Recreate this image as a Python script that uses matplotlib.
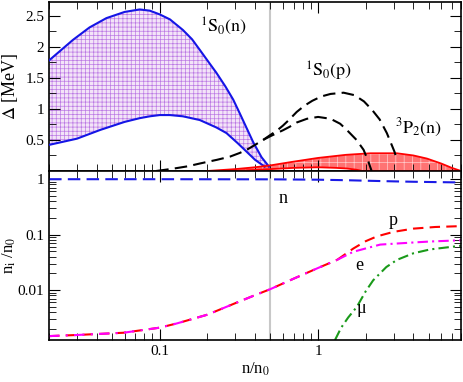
import matplotlib
matplotlib.use("Agg")
import matplotlib.pyplot as plt
from matplotlib.ticker import FixedLocator, FuncFormatter, LogLocator, NullFormatter

plt.rcParams['font.family'] = ['Liberation Serif', 'DejaVu Serif']
plt.rcParams['mathtext.fontset'] = 'stix'
plt.rcParams['hatch.linewidth'] = 0.5

# 1S0 neutron gap band (upper / lower)
s0n_up_x = [0.02, 0.0283, 0.036, 0.046, 0.06, 0.0747, 0.0866, 0.1, 0.116, 0.14, 0.16, 0.179, 0.2,
            0.228, 0.26, 0.291, 0.32, 0.354, 0.39, 0.44, 0.49]
s0n_up_y = [1.78, 2.11, 2.31, 2.46, 2.56, 2.60, 2.58, 2.52, 2.44, 2.27, 2.12, 1.95, 1.78,
            1.58, 1.36, 1.15, 0.93, 0.69, 0.46, 0.22, 0.07]
s0n_lo_x = [0.02, 0.03, 0.042, 0.06, 0.0747, 0.0866, 0.1, 0.116, 0.14, 0.179, 0.228, 0.264,
            0.31, 0.354, 0.4, 0.46]
s0n_lo_y = [0.42, 0.52, 0.66, 0.79, 0.85, 0.88, 0.90, 0.90, 0.88, 0.82, 0.70, 0.61,
            0.45, 0.31, 0.18, 0.07]

# 1S0 proton gap (two dashed curves sharing the low-density branch)
s0p_com_x = [0.095, 0.12, 0.15, 0.179, 0.23, 0.277, 0.32, 0.354, 0.4, 0.45]
s0p_com_y = [0.0, 0.035, 0.075, 0.12, 0.18, 0.23, 0.29, 0.34, 0.42, 0.50]
s0p_up_x = [0.45, 0.5, 0.55, 0.6, 0.66, 0.733, 0.82, 0.92, 1.05, 1.2, 1.45, 1.7, 1.95, 2.2,
            2.45, 2.72, 3.04, 3.15]
s0p_up_y = [0.50, 0.58, 0.65, 0.73, 0.83, 0.95, 1.05, 1.13, 1.20, 1.24, 1.26, 1.22, 1.12, 0.98,
            0.83, 0.61, 0.31, 0.18]
s0p_lo_x = [0.45, 0.5, 0.55, 0.6, 0.66, 0.733, 0.85, 1.0, 1.2, 1.38, 1.52, 1.75, 1.94, 2.08, 2.18]
s0p_lo_y = [0.50, 0.56, 0.61, 0.655, 0.71, 0.78, 0.84, 0.87, 0.84, 0.76, 0.66, 0.50, 0.34, 0.15, 0.0]

# 3P2 neutron gap band
p2_up_x = [0.2, 0.3, 0.4, 0.5, 0.7, 1.0, 1.5, 2.15, 3.15, 4.0, 4.87, 6.0, 7.0, 8.0]
p2_up_y = [0.0, 0.03, 0.06, 0.09, 0.15, 0.21, 0.26, 0.285, 0.285, 0.25, 0.20, 0.12, 0.05, 0.0]
p2_lo_x = [0.2, 0.3, 0.5, 0.7, 1.0, 1.3, 1.52, 1.75, 1.9, 8.0]
p2_lo_y = [0.0, 0.0, 0.03, 0.05, 0.06, 0.05, 0.04, 0.02, 0.0, 0.0]

# particle fractions
n_x = [0.02, 0.1, 0.5, 1.0, 1.5, 2.0, 3.0, 4.0, 6.0, 8.0]
n_y = [0.995, 0.995, 0.99, 0.975, 0.955, 0.935, 0.91, 0.895, 0.88, 0.87]
pe_x = [0.02, 0.03, 0.0588, 0.1, 0.128, 0.16, 0.2, 0.3, 0.4, 0.5, 0.7, 1.0, 1.32]
pe_y = [0.00148, 0.00155, 0.0017, 0.0021, 0.0025, 0.003, 0.0036, 0.0058, 0.0081, 0.0104, 0.016,
        0.025, 0.035]
p_x = [1.32, 1.67, 2.0, 2.36, 3.0, 4.0, 5.5, 8.0]
p_y = [0.035, 0.056, 0.076, 0.093, 0.112, 0.128, 0.137, 0.142]
e_x = [1.32, 1.67, 2.47, 3.15, 4.0, 5.1, 8.0]
e_y = [0.035, 0.049, 0.066, 0.069, 0.072, 0.075, 0.079]
mu_x = [1.28, 1.4, 1.55, 1.76, 2.0, 2.23, 2.7, 3.15, 4.0, 5.1, 8.0]
mu_y = [0.00126, 0.0021, 0.0032, 0.005, 0.0095, 0.015, 0.026, 0.035, 0.046, 0.054, 0.063]

n_half = 0.5

fig = plt.figure(figsize=(4.63, 3.82), dpi=100)
ax1 = fig.add_axes([0.106, 0.5524, 0.8897, 0.4424])
ax2 = fig.add_axes([0.106, 0.110, 0.8897, 0.4424])

for ax in (ax1, ax2):
    ax.set_xscale('log')
    ax.set_xlim(0.02, 8.0)
    ax.tick_params(which='both', direction='in', top=True, right=True, labelsize=11)
    ax.tick_params(which='major', length=8)
    ax.tick_params(which='minor', length=5)
    ax.axvline(n_half, color='#c8c8c8', lw=1.5, zorder=0)
    for s in ax.spines.values():
        s.set_linewidth(1.2)

# top panel
ax1.fill(s0n_up_x + s0n_lo_x[::-1], s0n_up_y + s0n_lo_y[::-1],
         facecolor='#f3e4f8', edgecolor='#bc7ae4', hatch='++++', linewidth=0, zorder=1)
ax1.plot(s0n_up_x, s0n_up_y, color='#1515e6', lw=1.5, zorder=3)
ax1.plot(s0n_lo_x, s0n_lo_y, color='#1515e6', lw=1.5, zorder=3)

ax1.fill(p2_up_x + p2_lo_x[::-1], p2_up_y + p2_lo_y[::-1],
         facecolor='#ff7373', edgecolor='#ffcccc', hatch='++', linewidth=0, zorder=1)
ax1.plot(p2_up_x, p2_up_y, color='red', lw=1.3, zorder=3)
ax1.plot(p2_lo_x, p2_lo_y, color='red', lw=1.3, zorder=3)

dash = (0, (6, 3))
ax1.plot(s0p_com_x, s0p_com_y, color='black', lw=1.5, linestyle=dash, zorder=4)
ax1.plot(s0p_up_x, s0p_up_y, color='black', lw=1.5, linestyle=dash, zorder=4)
ax1.plot(s0p_lo_x, s0p_lo_y, color='black', lw=1.5, linestyle=dash, zorder=4)

ax1.set_ylim(0, 2.72)
ax1.yaxis.set_major_locator(FixedLocator([0.5, 1.0, 1.5, 2.0, 2.5]))
ax1.yaxis.set_minor_locator(FixedLocator([0.25, 0.75, 1.25, 1.75, 2.25]))
ax1.yaxis.set_major_formatter(FuncFormatter(lambda v, p: '%g' % v))
ax1.xaxis.set_major_formatter(NullFormatter())
ax1.xaxis.set_minor_formatter(NullFormatter())
ax1.set_ylabel(r'$\Delta$ [MeV]', fontsize=13, labelpad=4)

ax1.text(0.179, 2.32, r'$^1\mathrm{S}_0\mathrm{(n)}$', fontsize=13, va='center')
ax1.text(0.83, 1.6, r'$^1\mathrm{S}_0\mathrm{(p)}$', fontsize=13, va='center')
ax1.text(3.07, 0.69, r'$^3\mathrm{P}_2\mathrm{(n)}$', fontsize=13, va='center')

# bottom panel
ax2.set_yscale('log')
ax2.plot(n_x, n_y, color='#1a1ae6', lw=1.5, linestyle=(0, (6, 3)))
ax2.plot(pe_x, pe_y, color='red', lw=1.5, linestyle=(0, (5, 3)))
ax2.plot(pe_x, pe_y, color='magenta', lw=1.5, linestyle=(0, (5, 3, 1, 3)))
ax2.plot(p_x, p_y, color='red', lw=1.5, linestyle=(0, (5, 3)))
ax2.plot(e_x, e_y, color='magenta', lw=1.5, linestyle=(0, (5, 2, 1, 2)))
ax2.plot(mu_x, mu_y, color='#1a9a1a', lw=1.5, linestyle=(0, (5, 2, 1, 2)))
ax2.set_ylim(0.00126, 1.4)
ax2.yaxis.set_major_locator(FixedLocator([0.01, 0.1, 1.0]))
ax2.yaxis.set_minor_locator(LogLocator(base=10, subs=range(2, 10), numticks=20))
ax2.yaxis.set_major_formatter(FuncFormatter(lambda v, p: '%g' % v))
ax2.yaxis.set_minor_formatter(NullFormatter())
ax2.xaxis.set_major_locator(FixedLocator([0.1, 1.0]))
ax2.xaxis.set_minor_locator(LogLocator(base=10, subs=range(2, 10), numticks=20))
ax2.xaxis.set_major_formatter(FuncFormatter(lambda v, p: '%g' % v))
ax2.xaxis.set_minor_formatter(NullFormatter())
ax2.set_ylabel(r'n$_\mathrm{i}$ /n$_0$', fontsize=12, labelpad=0)
ax2.set_xlabel(r'n/n$_0$', fontsize=12, labelpad=2)

ax2.text(0.56, 0.45, 'n', fontsize=13, va='center')
ax2.text(2.8, 0.18, 'p', fontsize=13, va='center')
ax2.text(1.71, 0.028, 'e', fontsize=13, va='center')
ax2.text(1.76, 0.0046, 'μ', fontsize=13, va='center')

fig.savefig('out.png', dpi=100)
